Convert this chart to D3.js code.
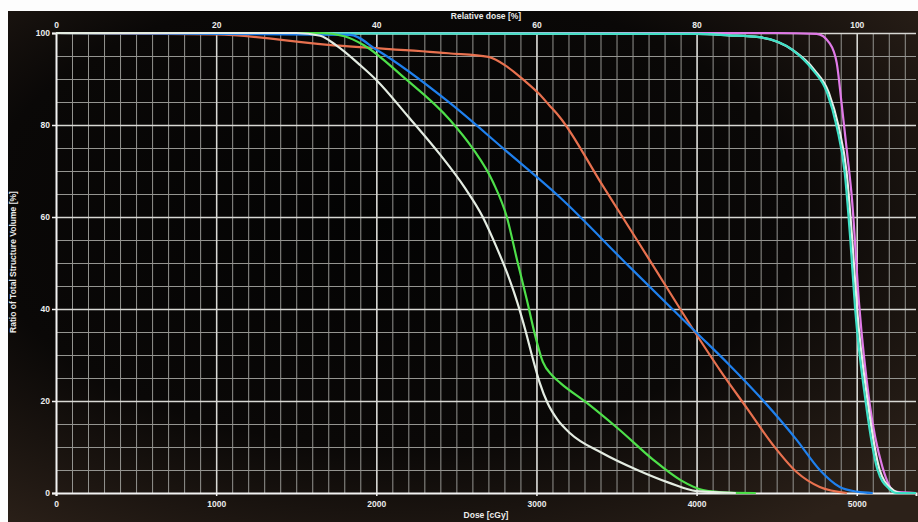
<!DOCTYPE html>
<html>
<head>
<meta charset="utf-8">
<script src="https://cdn.jsdelivr.net/npm/d3@7.9.0/dist/d3.min.js"></script>
<style>
  html, body { margin: 0; padding: 0; background: #fdfdfd; }
  svg { display: block; }
  text { font-family: "Liberation Sans", Arial, sans-serif; font-weight: bold; fill: #ececec; }
</style>
</head>
<body>
<svg id="chart" width="918" height="522"></svg>
<script>
// tick labels
const doseTicks = [0, 1000, 2000, 3000, 4000, 5000];
const relTicks = [0, 20, 40, 60, 80, 100];
const volTicks = [0, 20, 40, 60, 80, 100];

// DVH curves (dose cGy -> volume %)
const orangeDose = [0, 1000, 1700, 2450, 2700, 2820, 2920, 3010, 3080, 3146, 3400, 3700, 4000, 4150, 4313, 4476, 4626, 4769, 4938];
const orangeVol  = [100, 99.7, 97.4, 95.6, 94.8, 92.6, 89.8, 87, 84.3, 81.7, 67.6, 51, 34.4, 26.5, 18.5, 10.5, 4.5, 1.3, 0];

const blueDose = [0, 1835, 2004, 2459, 2803, 3146, 3583, 4001, 4200, 4413, 4626, 4769, 4894, 5000, 5100];
const blueVol  = [100, 99.6, 96.3, 84.8, 74.6, 64.3, 49.1, 34.8, 28, 20.2, 11.5, 5, 1.3, 0.3, 0];

const greenDose = [0, 1650, 1800, 1920, 2170, 2460, 2600, 2730, 2815, 2880, 2940, 2990, 3040, 3100, 3150, 3315, 3520, 3730, 3900, 4040, 4200, 4370];
const greenVol  = [100, 100, 99.3, 97.4, 90.4, 81.1, 75, 67.5, 60, 50.5, 42, 34.5, 28.5, 25.5, 23.9, 19.6, 13.7, 7.2, 2.8, 0.65, 0.1, 0];

const whiteDose = [0, 1500, 1650, 1750, 1900, 2000, 2200, 2400, 2550, 2665, 2750, 2815, 2880, 2930, 2975, 3020, 3070, 3130, 3210, 3410, 3630, 3830, 4000, 4245];
const whiteVol  = [100, 100, 99.4, 97.3, 93, 89.8, 81.8, 73.5, 66.5, 60, 53.5, 48, 41.5, 35.5, 29.5, 24, 19.5, 16, 13, 8.7, 5, 2.2, 0.4, 0];

const cyanDose = [0, 4000, 4200, 4390, 4600, 4725, 4815, 4875, 4925, 4960, 4990, 5055, 5130, 5200, 5250, 5370];
const cyanVol  = [100, 99.8, 99.5, 99.1, 96.3, 92, 87, 79.6, 69.6, 55, 40, 20, 5, 1, 0, 0];

const white2Dose = [0, 4000, 4200, 4390, 4600, 4735, 4826, 4887, 4937, 4972, 5002, 5068, 5143, 5215, 5275, 5370];
const white2Vol  = [100, 99.8, 99.5, 99.1, 96.3, 92, 87, 79.6, 69.6, 55, 40, 20, 5, 1, 0, 0];

const pinkDose = [0, 4500, 4750, 4830, 4875, 4905, 4940, 4970, 5015, 5080, 5160, 5240, 5370];
const pinkVol  = [100, 100, 99.8, 97.8, 93.5, 84.8, 73.9, 64, 41, 19.6, 5.7, 0.3, 0];

// draw order: first is bottom
const curves = [
  { dose: pinkDose, vol: pinkVol, color: '#e07ae8' },
  { dose: white2Dose, vol: white2Vol, color: '#e6efe8' },
  { dose: cyanDose, vol: cyanVol, color: '#3ee0c6' },
  { dose: orangeDose, vol: orangeVol, color: '#e8714f' },
  { dose: blueDose, vol: blueVol, color: '#1f80ee' },
  { dose: greenDose, vol: greenVol, color: '#4ee04a' },
  { dose: whiteDose, vol: whiteVol, color: '#e4ece2' }
];

const svg = d3.select('#chart');

// dark photo background with a bit of vignette
const defs = svg.append('defs');
const grad = defs.append('radialGradient').attr('id', 'bg').attr('cx', '42%').attr('cy', '40%').attr('r', '75%');
grad.append('stop').attr('offset', '0%').attr('stop-color', '#030303');
grad.append('stop').attr('offset', '60%').attr('stop-color', '#0a0807');
grad.append('stop').attr('offset', '100%').attr('stop-color', '#2c2119');
svg.append('rect').attr('x', 8).attr('y', 11).attr('width', 910).attr('height', 511).attr('fill', 'url(#bg)');

const x = d3.scaleLinear().domain([0, 5370]).range([56, 916]);
const xRel = d3.scaleLinear().domain([0, 107.4]).range([56, 916]);
const y = d3.scaleLinear().domain([0, 100]).range([493, 33]);

const plotH = 493 - 33;
const plotW = 916 - 56;

// minor grid
svg.append('g').attr('transform', 'translate(0,493)')
  .call(d3.axisBottom(x).tickValues(d3.range(100, 5370, 100)).tickSize(-plotH).tickFormat(''))
  .call(g => g.select('.domain').remove())
  .selectAll('line').attr('stroke', '#949490').attr('stroke-width', 1);
svg.append('g').attr('transform', 'translate(56,0)')
  .call(d3.axisLeft(y).tickValues(d3.range(5, 100, 5)).tickSize(-plotW).tickFormat(''))
  .call(g => g.select('.domain').remove())
  .selectAll('line').attr('stroke', '#949490').attr('stroke-width', 1);

// major grid
svg.append('g').attr('transform', 'translate(0,493)')
  .call(d3.axisBottom(x).tickValues(doseTicks.slice(1)).tickSize(-plotH).tickFormat(''))
  .call(g => g.select('.domain').remove())
  .selectAll('line').attr('stroke', '#d8d8d4').attr('stroke-width', 1.5);
svg.append('g').attr('transform', 'translate(56,0)')
  .call(d3.axisLeft(y).tickValues(volTicks.slice(1)).tickSize(-plotW).tickFormat(''))
  .call(g => g.select('.domain').remove())
  .selectAll('line').attr('stroke', '#d8d8d4').attr('stroke-width', 1.5);

// axes
const fmt = d3.format('d');
let bottomAxis = svg.append('g').attr('transform', 'translate(0,493)')
  .call(d3.axisBottom(x).tickValues(doseTicks).tickFormat(fmt).tickSize(3).tickPadding(5));
let topAxis = svg.append('g').attr('transform', 'translate(0,33)')
  .call(d3.axisTop(xRel).tickValues(relTicks).tickFormat(fmt).tickSize(0).tickPadding(5));
let leftAxis = svg.append('g').attr('transform', 'translate(56,0)')
  .call(d3.axisLeft(y).tickValues(volTicks).tickFormat(fmt).tickSize(4).tickPadding(2));

[bottomAxis, topAxis, leftAxis].forEach(a => {
  a.select('.domain').attr('stroke', '#f2f2f2').attr('stroke-width', 2);
  a.selectAll('line').attr('stroke', '#f2f2f2').attr('stroke-width', 1.5);
  a.selectAll('text').attr('font-size', 8.5).attr('font-family', '"Liberation Sans", Arial, sans-serif')
    .attr('font-weight', 'bold').attr('fill', '#ececec');
});
topAxis.select('.domain').remove();

// curves
const line = d3.line()
  .x(d => x(d[0]))
  .y(d => y(d[1]))
  .curve(d3.curveMonotoneX);

curves.forEach(c => {
  let pts = c.dose.map((d, i) => [d, c.vol[i]]);
  svg.append('path').attr('d', line(pts)).attr('fill', 'none')
    .attr('stroke', c.color).attr('stroke-width', 2.2).attr('stroke-linejoin', 'round');
});

// titles
svg.append('text').attr('x', 486).attr('y', 19).attr('text-anchor', 'middle').attr('font-size', 8.5).text('Relative dose [%]');
svg.append('text').attr('x', 486).attr('y', 518).attr('text-anchor', 'middle').attr('font-size', 8.5).text('Dose [cGy]');
svg.append('text').attr('transform', 'translate(16,262) rotate(-90)').attr('text-anchor', 'middle').attr('font-size', 8.5)
  .text('Ratio of Total Structure Volume [%]');
</script>
</body>
</html>
